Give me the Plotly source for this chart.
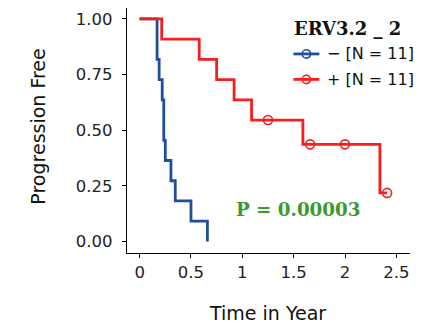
import numpy as np
import plotly.graph_objects as go

# ---- data ----
group_labels = ["\u2212 [N = 11]", "+ [N = 11]"]
legend_title = "ERV3.2 _ 2"
neg_times = [0.17, 0.17, 0.19, 0.22, 0.235, 0.235, 0.25, 0.305, 0.347, 0.50, 0.66]
neg_status = [1, 1, 1, 1, 1, 1, 1, 1, 1, 1, 1]
pos_times = [0.215, 0.58, 0.75, 0.92, 1.09, 1.25, 1.59, 1.66, 2.00, 2.34, 2.41]
pos_status = [1, 1, 1, 1, 1, 0, 1, 0, 0, 1, 0]
p_label = "P = 0.00003"
x_ticks = [0, 0.5, 1, 1.5, 2, 2.5]
x_ticklabels = ["0", "0.5", "1", "1.5", "2", "2.5"]
y_ticks = [0, 0.25, 0.5, 0.75, 1.0]
y_ticklabels = ["0.00", "0.25", "0.50", "0.75", "1.00"]

colors = ["#1E4F9C", "#F51F1F"]
SANS = "DejaVu Sans"
SERIF = "DejaVu Serif"


def km(times, status):
    t = np.array(times, float)
    s = np.array(status, int)
    order = np.argsort(t)
    t, s = t[order], s[order]
    xs, ys = [0.0], [1.0]
    cx, cy = [], []
    surv = 1.0
    n = len(t)
    for ut in np.unique(t):
        mask = t == ut
        d = int(s[mask].sum())
        c = int(mask.sum()) - d
        if d > 0:
            surv *= (n - d) / n
            xs.append(ut)
            ys.append(surv)
        if c > 0:
            cx.append(ut)
            cy.append(surv)
        n -= int(mask.sum())
    xs.append(float(t.max()))
    ys.append(surv)
    return xs, ys, cx, cy


fig = go.Figure()
for times, status, col, lab in [(neg_times, neg_status, colors[0], group_labels[0]),
                                (pos_times, pos_status, colors[1], group_labels[1])]:
    xs, ys, cx, cy = km(times, status)
    fig.add_trace(go.Scatter(x=xs, y=ys, mode="lines", name=lab,
                             line=dict(color=col, width=2.8, shape="hv"),
                             showlegend=False, hoverinfo="skip"))
    if cx:
        fig.add_trace(go.Scatter(x=cx, y=cy, mode="markers", showlegend=False,
                                 marker=dict(symbol="circle-open", size=9, color=col, line=dict(width=1.6))))

fig.add_annotation(x=1.539, y=0.145, xref="x", yref="y", text="<b>" + p_label.replace(" ", "\u00a0") + "</b>",
                   showarrow=False, font=dict(family=SERIF, size=18.3, color="#3A9A2E"))

# ---- manual legend (paper coordinates) ----
PL, PW, PT, PH = 126.7, 283.3, 8.0, 245.3
def px(xp):
    return (xp - PL) / PW
def py(yp):
    return 1 - (yp - PT) / PH

fig.add_annotation(x=px(292.0), y=py(29.0), xref="paper", yref="paper", xanchor="left", yanchor="middle",
                   text="<b>" + legend_title + "</b>", showarrow=False,
                   font=dict(family=SERIF, size=18, color="#111"))
for i, (col, lab) in enumerate(zip(colors, group_labels)):
    yrow = py(54.0 + i * 25.5)
    fig.add_shape(type="line", xref="paper", yref="paper", x0=px(293.3), x1=px(319.3), y0=yrow, y1=yrow,
                  line=dict(color=col, width=2.8))
    fig.add_shape(type="circle", xref="paper", yref="paper", xsizemode="pixel", ysizemode="pixel",
                  xanchor=px(306.3), yanchor=yrow, x0=-4.2, x1=4.2, y0=-4.2, y1=4.2,
                  line=dict(color=col, width=1.6))
    fig.add_annotation(x=px(324.5), y=yrow, xref="paper", yref="paper", xanchor="left", yanchor="middle",
                       text=lab, showarrow=False, font=dict(family=SANS, size=16, color="#111"))

# ---- axis titles ----
fig.add_annotation(x=px(36.7), y=py(126.7), xref="paper", yref="paper", xanchor="center", yanchor="middle",
                   text="Progression Free", textangle=-90, showarrow=False,
                   font=dict(family=SANS, size=19, color="#111"))
fig.add_annotation(x=px(267.5), y=py(313.0), xref="paper", yref="paper", xanchor="center", yanchor="middle",
                   text="Time in Year", showarrow=False,
                   font=dict(family=SANS, size=19, color="#111"))

axis_common = dict(showline=True, linecolor="black", linewidth=1.2, ticks="outside", ticklen=4,
                   tickcolor="black", tickwidth=1.1, showgrid=False, zeroline=False, automargin=False,
                   tickfont=dict(family=SANS, size=16.5, color="#222"))
fig.update_xaxes(range=[-0.123, 2.633], tickvals=x_ticks, ticktext=x_ticklabels, ticklabelstandoff=0,
                 **axis_common)
fig.update_yaxes(range=[-0.052, 1.049], tickvals=y_ticks, ticktext=y_ticklabels, ticklabelstandoff=6,
                 **axis_common)

fig.update_layout(
    width=421, height=324,
    margin=dict(l=127, r=11, t=8, b=71),
    plot_bgcolor="white", paper_bgcolor="white",
    showlegend=False,
)
fig.write_html("out.html", config={"displayModeBar": False},
               post_script="document.body.style.margin='0';document.body.style.overflow='hidden';")
